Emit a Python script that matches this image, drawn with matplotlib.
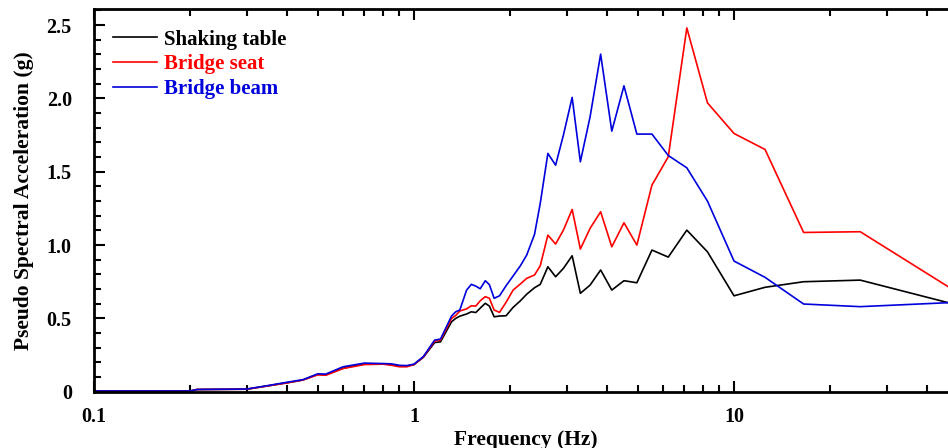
import matplotlib
matplotlib.use("Agg")
import matplotlib.pyplot as plt
from matplotlib.ticker import FixedLocator, NullFormatter, MultipleLocator

plt.rcParams['font.family'] = ['Liberation Serif', 'DejaVu Serif']
plt.rcParams['font.weight'] = 'bold'

freq = [0.1, 0.2, 0.21, 0.3, 0.35, 0.4, 0.45, 0.5, 0.53, 0.6, 0.7, 0.8, 0.85,
        0.9, 0.95, 1.0, 1.07, 1.16, 1.21, 1.31, 1.35, 1.39, 1.46, 1.51, 1.56,
        1.61, 1.67, 1.72, 1.78, 1.85, 1.94, 2.04, 2.15, 2.25, 2.38, 2.48, 2.62,
        2.77, 2.93, 3.12, 3.31, 3.55, 3.83, 4.15, 4.53, 4.97, 5.54, 6.23, 7.12,
        8.26, 10.0, 12.5, 16.5, 24.8, 46.7]

shaking_table = [0.005, 0.005, 0.015, 0.017, 0.040, 0.060, 0.080, 0.118, 0.115,
                 0.160, 0.190, 0.190, 0.185, 0.175, 0.175, 0.185, 0.235, 0.335,
                 0.340, 0.477, 0.500, 0.515, 0.530, 0.545, 0.540, 0.570, 0.603,
                 0.584, 0.511, 0.516, 0.518, 0.575, 0.620, 0.665, 0.709, 0.732,
                 0.852, 0.784, 0.841, 0.927, 0.671, 0.727, 0.830, 0.693, 0.757,
                 0.743, 0.966, 0.918, 1.102, 0.954, 0.654, 0.712, 0.750, 0.761,
                 0.607]

bridge_seat = [0.005, 0.005, 0.015, 0.017, 0.040, 0.060, 0.080, 0.115, 0.112,
               0.158, 0.185, 0.188, 0.180, 0.170, 0.170, 0.185, 0.237, 0.345,
               0.352, 0.500, 0.520, 0.550, 0.565, 0.586, 0.584, 0.620, 0.648,
               0.637, 0.557, 0.541, 0.610, 0.693, 0.735, 0.773, 0.796, 0.859,
               1.068, 1.007, 1.102, 1.243, 0.973, 1.114, 1.227, 0.988, 1.152,
               1.000, 1.409, 1.602, 2.481, 1.970, 1.761, 1.652, 1.086, 1.091,
               0.716]

bridge_beam = [0.005, 0.005, 0.015, 0.018, 0.042, 0.064, 0.082, 0.122, 0.120,
               0.170, 0.195, 0.192, 0.190, 0.180, 0.178, 0.188, 0.240, 0.352,
               0.359, 0.516, 0.545, 0.557, 0.693, 0.732, 0.720, 0.702, 0.757,
               0.730, 0.637, 0.654, 0.723, 0.789, 0.859, 0.932, 1.073, 1.284,
               1.625, 1.545, 1.750, 2.007, 1.568, 1.875, 2.302, 1.777, 2.086,
               1.757, 1.757, 1.611, 1.527, 1.300, 0.891, 0.780, 0.598, 0.580,
               0.607]

series_names = ['Shaking table', 'Bridge seat', 'Bridge beam']
series_colors = ['black', '#ff0000', '#0000dd']

x_ticks = [0.1, 1, 10]
x_tick_labels = ['0.1', '1', '10']
y_ticks = [0, 0.5, 1.0, 1.5, 2.0, 2.5]
y_tick_labels = ['0', '0.5', '1.0', '1.5', '2.0', '2.5']

fig = plt.figure(figsize=(9.48, 4.48), dpi=100)
ax = fig.add_axes([94 / 948, 1 - 391.7 / 448, (957.7 - 94) / 948, (391.7 - 9) / 448])

for vals, name, col in zip([shaking_table, bridge_seat, bridge_beam], series_names, series_colors):
    ax.plot(freq, vals, color=col, lw=1.2, label=name)

ax.set_xscale('log')
ax.set_xlim(0.1, 50)
ax.set_ylim(0, 2.61)

ax.xaxis.set_major_locator(FixedLocator(x_ticks))
ax.set_xticklabels(x_tick_labels)
ax.xaxis.set_minor_locator(FixedLocator([0.2, 0.3, 0.4, 0.5, 0.6, 0.7, 0.8, 0.9,
                                         2, 3, 4, 5, 6, 7, 8, 9, 20, 30, 40, 50]))
ax.xaxis.set_minor_formatter(NullFormatter())
ax.set_yticks(y_ticks)
ax.set_yticklabels(y_tick_labels)
ax.yaxis.set_minor_locator(MultipleLocator(0.1))

ax.tick_params(which='both', direction='in', top=True, right=False, width=1.5)
ax.tick_params(which='major', length=8)
ax.tick_params(which='minor', length=5)
ax.tick_params(axis='y', which='major', labelsize=14.5, pad=16)
ax.tick_params(axis='x', which='major', labelsize=14.5, pad=11)

for s in ['left', 'bottom', 'top']:
    ax.spines[s].set_linewidth(2)
ax.spines['right'].set_visible(False)

ax.set_xlabel('Frequency (Hz)', fontsize=15.5, fontweight='bold', labelpad=2)
ax.set_ylabel('Pseudo Spectral Acceleration (g)', fontsize=15.5, fontweight='bold', labelpad=9)

leg = ax.legend(loc='upper left', bbox_to_anchor=(0.022, 0.946), frameon=False,
                fontsize=15, handlelength=2.1, handletextpad=0.33, labelspacing=0.22,
                borderaxespad=0, borderpad=0)
for txt, col in zip(leg.get_texts(), series_colors):
    txt.set_color(col)
    txt.set_fontweight('bold')

fig.savefig('out.png', dpi=100)
